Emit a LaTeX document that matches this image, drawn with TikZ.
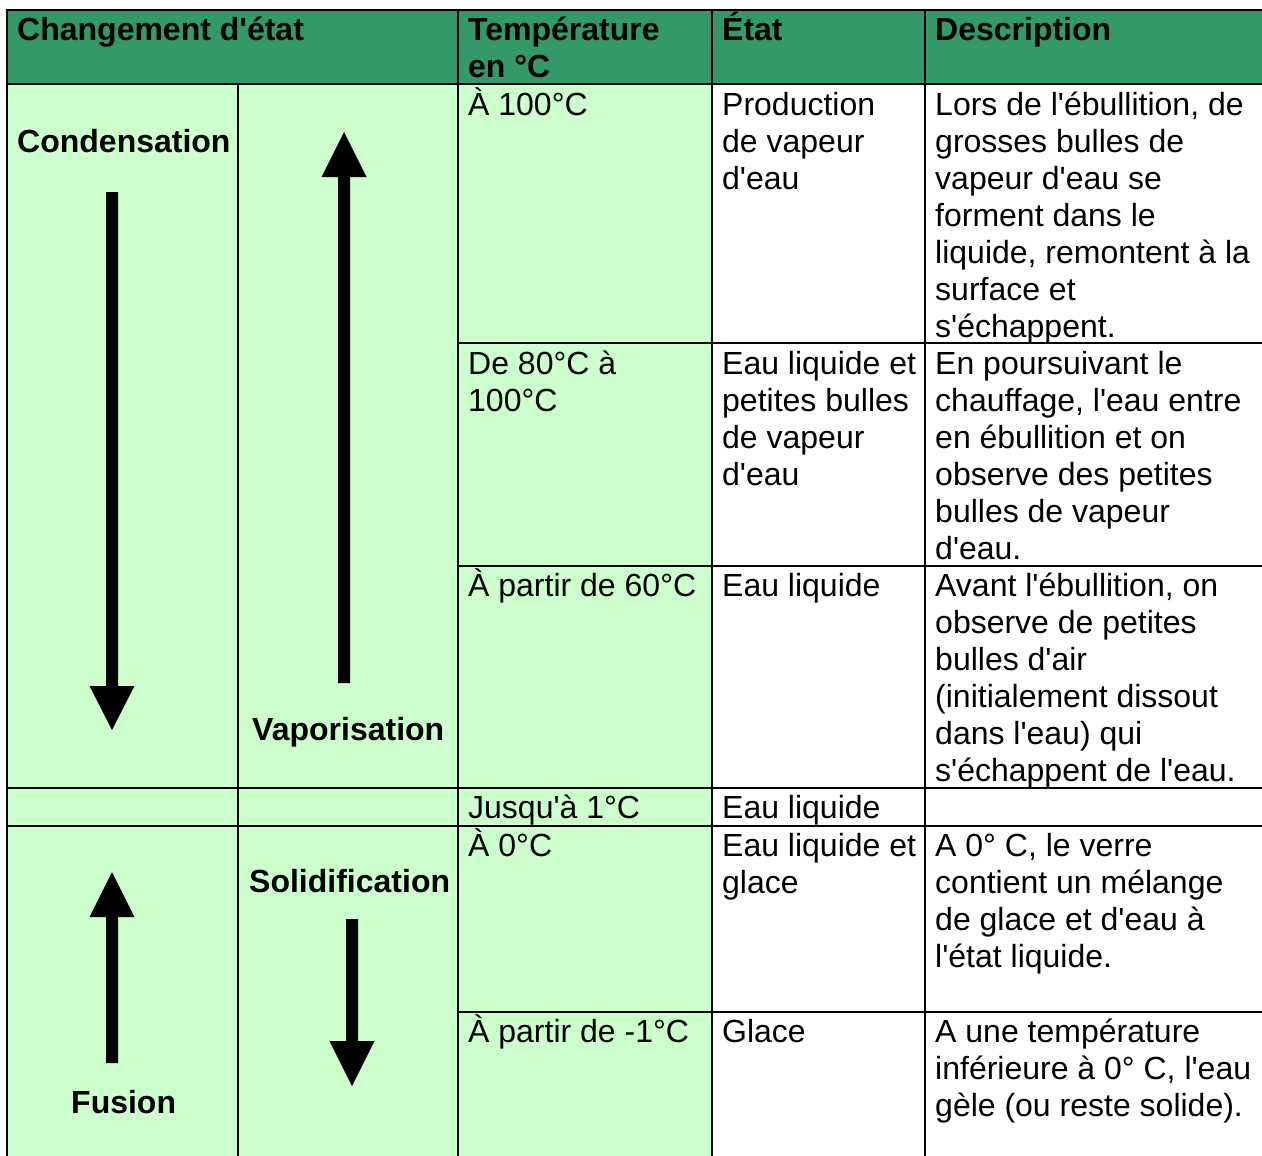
\documentclass[tikz,border=0pt]{standalone}
\usepackage{fontspec}
\setmainfont{Liberation Sans}[Ligatures=TeXOff]
\definecolor{hdr}{HTML}{339966}
\definecolor{lite}{HTML}{CCFFCC}
\newcommand\arrowshape[4]{%
  \fill[black] (#1-6,#2) -- (#1+6,#2) -- (#1+6,#3) -- (#1+22.5,#3) -- (#1,#4)
    -- (#1-22.5,#3) -- (#1-6,#3) -- cycle;}
\begin{document}
\begin{tikzpicture}[x=1pt,y=-1pt,
  txt/.style={anchor=north west, inner sep=0pt, align=left,
    font=\fontsize{32pt}{37pt}\selectfont},
  txtb/.style={txt, font=\fontsize{32pt}{37pt}\selectfont\bfseries},
  lbl/.style={anchor=base west, inner sep=0pt,
    font=\fontsize{32pt}{37pt}\selectfont\bfseries},
  grid/.style={line width=2pt, black},
  gridthin/.style={line width=1.4pt, black}]
\useasboundingbox (0,0) rectangle (1262,1156);
% backgrounds
\fill[hdr] (7,10) rectangle (1262,84);
\fill[lite] (7,84) rectangle (712,1156);
\fill[white] (712,84) rectangle (1262,1156);
% grid
\draw[line width=2.4pt] (6,10) -- (1262,10);
\draw[grid] (7,9) -- (7,1156);
\draw[grid] (7,84) -- (1262,84);
\draw[gridthin] (238,84) -- (238,1156);
\draw[grid] (458,10) -- (458,1156);
\draw[grid] (712,10) -- (712,1156);
\draw[grid] (925,10) -- (925,1156);
\draw[grid] (458,343) -- (1262,343);
\draw[grid] (458,566) -- (1262,566);
\draw[grid] (7,788) -- (1262,788);
\draw[grid] (7,826) -- (1262,826);
\draw[grid] (458,1012) -- (1262,1012);
% header
\node[txtb] (h1) at (17,40-29) {\rule{0pt}{29pt}Changement d'état};
\node[txtb] (h2) at (468,40-29) {\rule{0pt}{29pt}Température\\en °C};
\node[txtb] (h3) at (722,40-29) {\rule{0pt}{29pt}État};
\node[txtb] (h4) at (935,40-29) {\rule{0pt}{29pt}Description};
% row 1
\node[txt] (t1) at (468,115-29) {\rule{0pt}{29pt}À 100°C};
\node[txt] (e1) at (722,115-29) {\rule{0pt}{29pt}Production\\de vapeur\\d'eau};
\node[txt] (d1) at (935,115-29) {\rule{0pt}{29pt}Lors de l'ébullition, de\\grosses bulles de\\vapeur d'eau se\\forment dans le\\liquide, remontent à la\\surface et\\s'échappent.};
% row 2
\node[txt] (t2) at (468,374-29) {\rule{0pt}{29pt}De 80°C à\\100°C};
\node[txt] (e2) at (722,374-29) {\rule{0pt}{29pt}Eau liquide et\\petites bulles\\de vapeur\\d'eau};
\node[txt] (d2) at (935,374-29) {\rule{0pt}{29pt}En poursuivant le\\chauffage, l'eau entre\\en ébullition et on\\observe des petites\\bulles de vapeur\\d'eau.};
% row 3
\node[txt] (t3) at (468,596-29) {\rule{0pt}{29pt}À partir de 60°C};
\node[txt] (e3) at (722,596-29) {\rule{0pt}{29pt}Eau liquide};
\node[txt] (d3) at (935,596-29) {\rule{0pt}{29pt}Avant l'ébullition, on\\observe de petites\\bulles d'air\\(initialement dissout\\dans l'eau) qui\\s'échappent de l'eau.};
% row 4
\node[txt] (t4) at (468,818-29) {\rule{0pt}{29pt}Jusqu'à 1°C};
\node[txt] (e4) at (722,818-29) {\rule{0pt}{29pt}Eau liquide};
% row 5
\node[txt] (t5) at (468,856-29) {\rule{0pt}{29pt}À 0°C};
\node[txt] (e5) at (722,856-29) {\rule{0pt}{29pt}Eau liquide et\\glace};
\node[txt] (d5) at (935,856-29) {\rule{0pt}{29pt}A 0° C, le verre\\contient un mélange\\de glace et d'eau à\\l'état liquide.};
% row 6
\node[txt] (t6) at (468,1042-29) {\rule{0pt}{29pt}À partir de -1°C};
\node[txt] (e6) at (722,1042-29) {\rule{0pt}{29pt}Glace};
\node[txt] (d6) at (935,1042-29) {\rule{0pt}{29pt}A une température\\inférieure à 0° C, l'eau\\gèle (ou reste solide).};
% change-of-state labels
\node[lbl] (cond) at (17,152) {Condensation};
\node[lbl] (vap) at (252,740) {Vaporisation};
\node[lbl] (sol) at (249,892) {Solidification};
\node[lbl] (fus) at (71,1113) {Fusion};
% arrows
\arrowshape{112}{192}{686}{730}
\arrowshape{344}{683}{177}{132}
\arrowshape{112}{1063}{917}{872}
\arrowshape{352}{919}{1041}{1086}
\end{tikzpicture}
\end{document}
